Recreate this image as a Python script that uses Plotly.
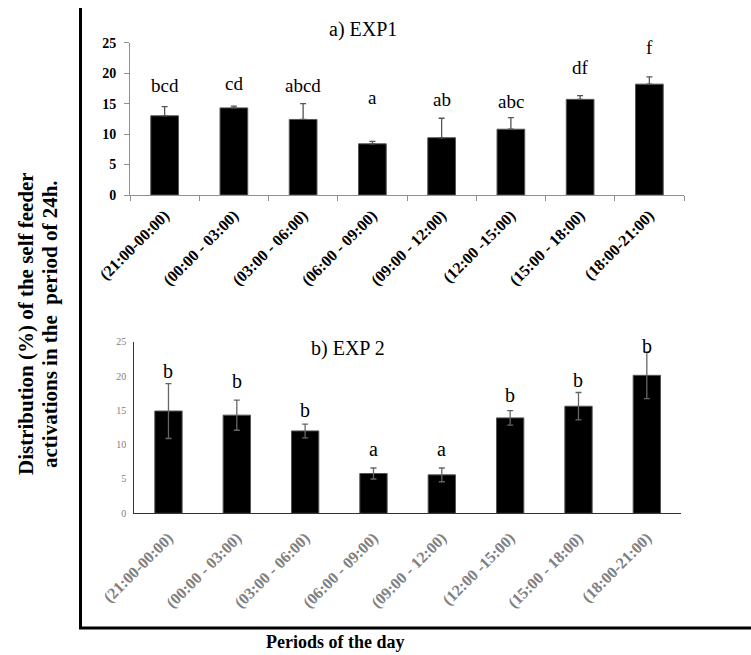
import plotly.graph_objects as go

# Time-of-day periods (x categories)
periods = ["(21:00-00:00)", "(00:00 - 03:00)", "(03:00 - 06:00)", "(06:00 - 09:00)",
           "(09:00 - 12:00)", "(12:00 -15:00)", "(15:00 - 18:00)", "(18:00-21:00)"]

# EXP1: mean distribution (%) and upper error
exp1_values = [13.0, 14.3, 12.4, 8.4, 9.4, 10.8, 15.7, 18.2]
exp1_errors = [1.5, 0.3, 2.6, 0.4, 3.2, 1.9, 0.6, 1.2]
exp1_letters = ["bcd", "cd", "abcd", "a", "ab", "abc", "df", "f"]
exp1_letter_y = [17.95, 18.35, 17.95, 16.0, 15.6, 15.4, 20.85, 24.25]

# EXP2: mean distribution (%) and symmetric error
exp2_values = [14.9, 14.3, 12.0, 5.8, 5.6, 13.9, 15.6, 20.1]
exp2_errors = [4.0, 2.2, 1.0, 0.8, 1.0, 1.05, 2.0, 3.4]
exp2_letters = ["b", "b", "b", "a", "a", "b", "b", "b"]
exp2_letter_y = [20.8, 19.3, 15.05, 9.4, 9.4, 17.25, 19.45, 24.4]

# Shared axis titles
y_title_lines = ["Distribution (%) of the self feeder", "activations in the  period of 24h."]
x_title = "Periods of the day"

W, H = 751, 655
SERIF = "Liberation Serif, Times New Roman, serif"

def px_x(x):
    return x / W

def px_y(y):
    return 1 - y / H

fig = go.Figure()

fig.add_trace(go.Bar(
    x=periods, y=exp1_values, xaxis="x", yaxis="y", width=0.4,
    marker=dict(color="black", line=dict(color="#555555", width=1)),
    error_y=dict(type="data", symmetric=False, array=exp1_errors,
                 arrayminus=[0] * len(exp1_errors),
                 color="#555555", thickness=1.3, width=3),
    showlegend=False,
))

fig.add_trace(go.Bar(
    x=periods, y=exp2_values, xaxis="x2", yaxis="y2", width=0.4,
    marker=dict(color="black", line=dict(color="#555555", width=1)),
    error_y=dict(type="data", array=exp2_errors,
                 color="#666666", thickness=1.3, width=3),
    showlegend=False,
))

annotations = []
for p, t, y in zip(periods, exp1_letters, exp1_letter_y):
    annotations.append(dict(x=p, y=y, xref="x", yref="y", text=t, showarrow=False,
                            font=dict(family=SERIF, size=19, color="black")))
for p, t, y in zip(periods, exp2_letters, exp2_letter_y):
    annotations.append(dict(x=p, y=y, xref="x2", yref="y2", text=t, showarrow=False,
                            font=dict(family=SERIF, size=20, color="black")))

annotations += [
    dict(x=px_x(363), y=px_y(30), xref="paper", yref="paper", text="a) EXP1",
         xanchor="center", yanchor="middle",
         showarrow=False, font=dict(family=SERIF, size=20, color="black")),
    dict(x=px_x(348), y=px_y(348), xref="paper", yref="paper", text="b) EXP 2",
         xanchor="center", yanchor="middle",
         showarrow=False, font=dict(family=SERIF, size=20, color="black")),
    dict(x=px_x(335), y=px_y(642), xref="paper", yref="paper",
         xanchor="center", yanchor="middle",
         text="<b>" + x_title + "</b>", showarrow=False,
         font=dict(family=SERIF, size=18, color="black")),
]
for line, cx in zip(y_title_lines, [26, 50]):
    annotations.append(dict(x=px_x(cx), y=px_y(324), xref="paper", yref="paper",
                            xanchor="center", yanchor="middle",
                            text="<b>" + line + "</b>", showarrow=False, textangle=-90,
                            font=dict(family=SERIF, size=21, color="black")))

fig.update_layout(
    width=W, height=H,
    margin=dict(l=0, r=0, t=0, b=0, autoexpand=False),
    paper_bgcolor="white", plot_bgcolor="white",
    bargap=0.6,
    annotations=annotations,
    xaxis=dict(domain=[px_x(130), px_x(684)], anchor="y", automargin=False,
               showline=True, linecolor="#909090", linewidth=1,
               ticks="outside", ticklen=5, tickcolor="#909090", tickson="boundaries",
               tickangle=-45, ticklabelstandoff=4, showgrid=False,
               tickfont=dict(family=SERIF, size=16, color="black", weight="bold")),
    yaxis=dict(domain=[px_y(195), px_y(42.7)], anchor="x", range=[0, 25], automargin=False,
               tickvals=[0, 5, 10, 15, 20, 25],
               showline=True, linecolor="#909090", linewidth=1,
               ticks="outside", ticklen=5, tickcolor="#909090", ticklabelstandoff=5,
               showgrid=False, zeroline=False,
               tickfont=dict(family=SERIF, size=14, color="black", weight="bold")),
    xaxis2=dict(domain=[px_x(134.3), px_x(681)], anchor="y2", automargin=False,
                showline=True, linecolor="#333333", linewidth=1.3,
                ticks="", tickangle=-45, ticklabelstandoff=8, showgrid=False,
                tickfont=dict(family=SERIF, size=16, color="#808080", weight="bold")),
    yaxis2=dict(domain=[px_y(513.3), px_y(341.7)], anchor="x2", range=[0, 25], automargin=False,
                tickvals=[0, 5, 10, 15, 20, 25],
                showline=True, linecolor="#333333", linewidth=1,
                ticks="", ticklabelstandoff=5, showgrid=False, zeroline=False,
                tickfont=dict(family=SERIF, size=10, color="#808080")),
    shapes=[
        dict(type="line", xref="paper", yref="paper",
             x0=px_x(80.5), x1=px_x(80.5), y0=px_y(8), y1=px_y(629),
             line=dict(color="black", width=3)),
        dict(type="line", xref="paper", yref="paper",
             x0=px_x(79), x1=1.0, y0=px_y(628), y1=px_y(628),
             line=dict(color="black", width=3)),
    ],
)

fig.write_html("out.html")
